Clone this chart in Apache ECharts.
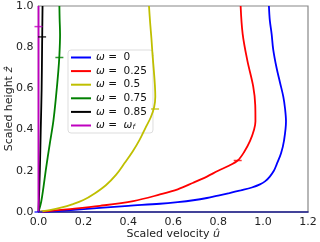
<!DOCTYPE html>
<html><head><meta charset="utf-8">
<script src="https://cdn.jsdelivr.net/npm/echarts@6/dist/echarts.min.js"></script>
<style>html,body{margin:0;padding:0;background:#fff}#c{width:320px;height:242px}</style>
</head><body><div id="c"></div>
<script>
// Data: each profile is a list of [u, z] pairs
const seriesNames = ['ω = 0', 'ω = 0.25', 'ω = 0.5', 'ω = 0.75', 'ω = 0.85', 'ω = ωf'];
const legendLabels = ['{i|ω} =  0', '{i|ω} =  0.25', '{i|ω} =  0.5', '{i|ω} =  0.75', '{i|ω} =  0.85', '{i|ω} =  {i|ω}{s|f}'];
const profile0 = [[0,0],[0.1,0.006],[0.274,0.02],[0.4,0.03],[0.541,0.04],[0.62,0.048],[0.689,0.057],[0.75,0.068],[0.8,0.08],[0.85,0.092],[0.9,0.105],[0.95,0.119],[0.986,0.134],[1.01,0.15],[1.03,0.172],[1.048,0.2],[1.06,0.23],[1.08,0.285],[1.093,0.345],[1.102,0.44],[1.098,0.5],[1.09,0.56],[1.075,0.63],[1.06,0.70],[1.045,0.79],[1.038,0.865],[1.03,0.93],[1.026,1.0]];
const profile025 = [[0,0],[0.126,0.013],[0.274,0.03],[0.422,0.053],[0.541,0.085],[0.62,0.11],[0.689,0.142],[0.75,0.172],[0.8,0.2],[0.85,0.226],[0.887,0.25],[0.915,0.29],[0.942,0.345],[0.96,0.4],[0.966,0.44],[0.965,0.52],[0.956,0.61],[0.93,0.735],[0.909,0.865],[0.9,1.0]];
const profile05 = [[0,0],[0.05,0.009],[0.1,0.021],[0.15,0.037],[0.2,0.058],[0.25,0.09],[0.3,0.13],[0.345,0.18],[0.385,0.24],[0.42,0.295],[0.45,0.35],[0.477,0.41],[0.5,0.46],[0.515,0.51],[0.52,0.56],[0.518,0.62],[0.514,0.68],[0.508,0.76],[0.503,0.84],[0.497,0.92],[0.492,1.0]];
const profile075 = [[0,0],[0.012,0.05],[0.022,0.12],[0.032,0.2],[0.05,0.33],[0.066,0.44],[0.078,0.56],[0.088,0.68],[0.093,0.76],[0.096,0.86],[0.094,0.94],[0.093,1.0]];
const profile085 = [[0,0],[0.006,0.2],[0.01,0.4],[0.014,0.6],[0.016,0.8],[0.017,0.9],[0.018,1.0]];
const profileF = [[0,0],[0.0,0.5],[0.0,1.0]];
const profiles = [profile0, profile025, profile05, profile075, profile085, profileF];
const markerU = [0.0, 0.887, 0.519, 0.093, 0.016, 0.0];
const markerZ = [0.0, 0.25, 0.5, 0.75, 0.85, 0.9];
const colors = ['#0000ff', '#ff0000', '#bfbf00', '#008000', '#000000', '#bf00bf'];
const xTicks = [0, 0.2, 0.4, 0.6, 0.8, 1.0, 1.2];
const yTicks = [0, 0.2, 0.4, 0.6, 0.8, 1.0];

const font = 'DejaVu Sans';
const chart = echarts.init(document.getElementById('c'), null, {renderer: 'canvas'});
const series = profiles.map((p, i) => ({
  name: seriesNames[i], type: 'line', data: p, smooth: 0.35, symbol: 'none',
  lineStyle: {color: colors[i], width: 1.8}, itemStyle: {color: colors[i]}, z: 2 + i
}));
series.push({
  type: 'scatter', symbol: 'rect', symbolSize: [8, 1.5], z: 20, silent: true,
  data: markerU.map((u, i) => ({value: [u, markerZ[i]], itemStyle: {color: colors[i]}}))
});
chart.setOption({
  animation: false,
  color: colors,
  grid: {left: 38.5, right: 12, top: 6, bottom: 30, containLabel: false, outerBoundsMode: 'none',
    show: true, borderColor: '#888', borderWidth: 1.2, backgroundColor: 'transparent'},
  legend: {
    data: seriesNames, orient: 'vertical', left: 68, top: 50, icon: 'rect', itemWidth: 20, itemHeight: 2, itemGap: 2.6,
    backgroundColor: '#fff', borderColor: '#ddd', borderWidth: 1, borderRadius: 3, padding: [2, 6, 2, 3],
    formatter: name => legendLabels[seriesNames.indexOf(name)],
    textStyle: {fontFamily: font, fontSize: 10.5, color: '#111',
      rich: {i: {fontFamily: font, fontStyle: 'italic', fontSize: 10.5, color: '#111'},
             s: {fontFamily: font, fontStyle: 'italic', fontSize: 7, color: '#111', verticalAlign: 'bottom'}}}
  },
  xAxis: {
    type: 'value', min: 0, max: 1.2, interval: 0.2,
    name: 'Scaled velocity {i|û}', nameLocation: 'middle', nameGap: 17, nameMoveOverlap: false,
    nameTextStyle: {fontFamily: font, fontSize: 11, color: '#222', rich: {i: {fontFamily: font, fontStyle: 'italic', fontSize: 11, color: '#222'}}},
    axisLine: {show: true, lineStyle: {color: '#1a1a8c', width: 1.5}},
    axisTick: {show: false}, splitLine: {show: false},
    axisLabel: {fontFamily: font, fontSize: 11, color: '#222', margin: 5, formatter: v => xTicks.includes(+v.toFixed(1)) ? v.toFixed(1) : ''}
  },
  yAxis: {
    type: 'value', min: 0, max: 1.0, interval: 0.2,
    name: 'Scaled height {i|ẑ}', nameLocation: 'middle', nameGap: 24, nameMoveOverlap: false,
    nameTextStyle: {fontFamily: font, fontSize: 11, color: '#222', rich: {i: {fontFamily: font, fontStyle: 'italic', fontSize: 11, color: '#222'}}},
    axisLine: {show: true, lineStyle: {color: '#888', width: 1.2}},
    axisTick: {show: false}, splitLine: {show: false},
    axisLabel: {fontFamily: font, fontSize: 11, color: '#222', margin: 5, formatter: v => yTicks.includes(+v.toFixed(1)) ? v.toFixed(1) : ''}
  },
  series: series
});
</script></body></html>
